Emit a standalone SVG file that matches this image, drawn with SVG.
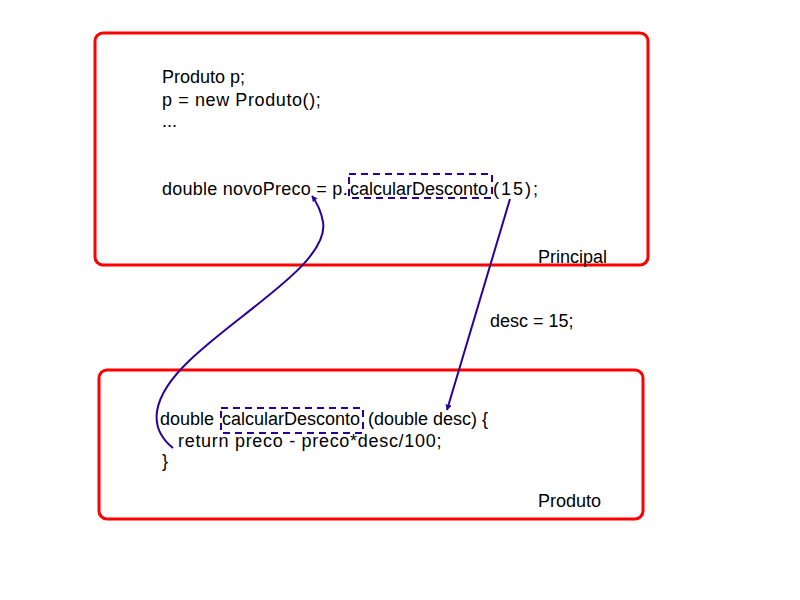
<svg xmlns="http://www.w3.org/2000/svg" width="800" height="600" viewBox="0 0 800 600">
  <style>
    .box { fill: none; stroke: #ff0000; stroke-width: 3; }
    .code { font-family: "Liberation Sans", Arial, sans-serif; font-size: 18px; fill: #000; }
    .sel { fill: none; stroke: #2a0099; stroke-width: 2; stroke-dasharray: 7 5; }
    .link { fill: none; stroke: #2a0099; stroke-width: 2; }
  </style>
  <defs>
    <marker id="arrow" viewBox="0 0 10 10" refX="9" refY="5" markerWidth="6" markerHeight="6" orient="auto" markerUnits="userSpaceOnUse">
      <path d="M0,0 L10,5 L0,10 Z" fill="#2a0099"/>
    </marker>
  </defs>
  <rect width="800" height="600" fill="#fff"/>

  <g id="principal">
    <rect class="box" x="95" y="33" width="553" height="232" rx="8"/>
    <text class="code" x="162" y="83">Produto p;</text>
    <text class="code" x="162" y="106" letter-spacing="0.6">p = new Produto();</text>
    <text class="code" x="162" y="127">...</text>
    <text class="code" y="195"><tspan x="162" letter-spacing="0.25">double novoPreco = p.</tspan><tspan x="350">calcularDesconto</tspan><tspan x="493" letter-spacing="2">(15);</tspan></text>
    <rect class="sel" x="349" y="174" width="143" height="24"/>
    <text class="code" x="538" y="263">Principal</text>
  </g>

  <g id="produto">
    <rect class="box" x="99" y="370" width="544" height="149" rx="8"/>
    <text class="code" y="425"><tspan x="160">double </tspan><tspan x="222">calcularDesconto</tspan><tspan x="368">(double desc) {</tspan></text>
    <text class="code" x="178" y="447" letter-spacing="0.7">return preco - preco*desc/100;</text>
    <text class="code" x="162" y="467">}</text>
    <rect class="sel" x="221" y="408" width="142" height="25"/>
    <text class="code" x="538" y="507">Produto</text>
  </g>

  <g id="connectors">
    <path class="link" d="M510,199 L447,410" marker-end="url(#arrow)"/>
    <text class="code" x="490" y="327">desc = 15;</text>
    <path class="link" d="M173,448 C148,428 150,398 190,360 C240,312 330,262 323,222 C321,211 318,204 312,196" marker-end="url(#arrow)"/>
  </g>
</svg>
